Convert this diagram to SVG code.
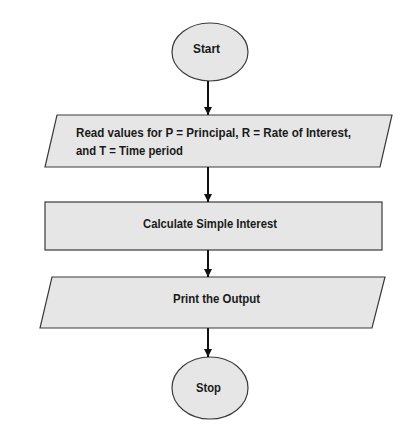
<svg xmlns="http://www.w3.org/2000/svg" width="419" height="431" viewBox="0 0 419 431">
<defs>
<marker id="ah" viewBox="0 0 8 8" refX="8" refY="4" markerWidth="8" markerHeight="8" markerUnits="userSpaceOnUse" orient="auto">
<path d="M0,0 L8,4 L0,8 Z" fill="#111"/>
</marker>
<style>
.shape{fill:#e6e6e6;stroke:#3a3a3a;stroke-width:1.2}
.t{font-family:"Liberation Sans",Arial,sans-serif;font-weight:bold;font-size:12.5px;fill:#1a1a1a}
.conn{stroke:#111;stroke-width:2;fill:none}
</style>
</defs>
<rect width="419" height="431" fill="#ffffff"/>
<g id="start">
<ellipse class="shape" cx="210" cy="52" rx="38" ry="29"/>
<text class="t" x="193" y="53" textLength="27" lengthAdjust="spacingAndGlyphs">Start</text>
</g>
<g id="read">
<polygon class="shape" points="57,115 392,115 380,167 45,167"/>
<text class="t" x="76" y="137" textLength="275" lengthAdjust="spacingAndGlyphs">Read values for P = Principal, R = Rate of Interest,</text>
<text class="t" x="76" y="155" textLength="107" lengthAdjust="spacingAndGlyphs">and T = Time period</text>
</g>
<g id="calc">
<rect class="shape" x="45" y="202" width="337" height="48"/>
<text class="t" x="143" y="228" textLength="134" lengthAdjust="spacingAndGlyphs">Calculate Simple Interest</text>
</g>
<g id="print">
<polygon class="shape" points="52,277 385,277 372,328 40,328"/>
<text class="t" x="173" y="303" textLength="87" lengthAdjust="spacingAndGlyphs">Print the Output</text>
</g>
<g id="stop">
<ellipse class="shape" cx="210" cy="388" rx="38" ry="31"/>
<text class="t" x="196" y="392" textLength="25" lengthAdjust="spacingAndGlyphs">Stop</text>
</g>
<g id="connectors">
<line class="conn" x1="208" y1="81" x2="208" y2="115" marker-end="url(#ah)"/>
<line class="conn" x1="208" y1="167" x2="208" y2="202" marker-end="url(#ah)"/>
<line class="conn" x1="208" y1="250" x2="208" y2="277" marker-end="url(#ah)"/>
<line class="conn" x1="208" y1="328" x2="208" y2="357" marker-end="url(#ah)"/>
</g>
</svg>
